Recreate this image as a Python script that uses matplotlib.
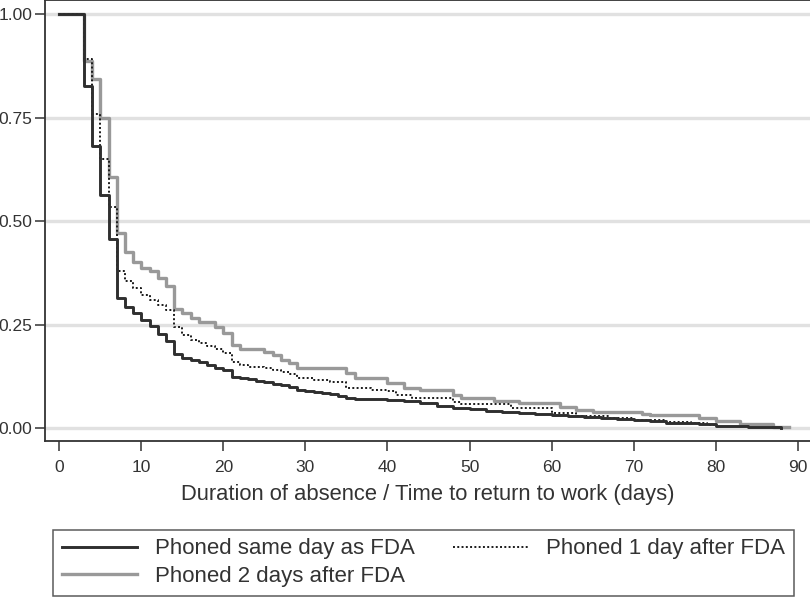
import matplotlib
matplotlib.use("Agg")
import matplotlib.pyplot as plt

plt.rcParams['font.family'] = ['Liberation Sans', 'DejaVu Sans']

# ---- data (Kaplan-Meier style survival) ----
same_days = [0, 3, 4, 5, 6, 7, 8, 9, 10, 11, 12, 13, 14, 15, 16, 17, 18, 19, 20,
             21, 22, 23, 24, 25, 26, 27, 28, 29, 30, 31, 32, 33, 34, 35, 36, 38,
             40, 42, 44, 46, 48, 50, 52, 54, 56, 58, 60, 62, 64, 66, 68, 70, 72,
             74, 78, 80, 84, 88]
same_surv = [1.0, 0.826, 0.683, 0.564, 0.457, 0.316, 0.293, 0.279, 0.262, 0.247,
             0.229, 0.211, 0.179, 0.170, 0.165, 0.159, 0.153, 0.146, 0.140, 0.125,
             0.121, 0.118, 0.115, 0.112, 0.108, 0.104, 0.099, 0.093, 0.090, 0.088,
             0.085, 0.082, 0.079, 0.074, 0.072, 0.070, 0.068, 0.065, 0.061, 0.055,
             0.050, 0.046, 0.043, 0.039, 0.036, 0.034, 0.031, 0.029, 0.027, 0.024,
             0.022, 0.019, 0.017, 0.014, 0.010, 0.006, 0.002, 0.0]
same_end = 88

one_days = [0, 3, 4, 5, 6, 7, 8, 9, 10, 11, 12, 13, 14, 15, 16, 17, 18, 19, 20,
            21, 22, 23, 25, 26, 27, 28, 29, 31, 33, 35, 38, 40, 41, 43, 48, 49,
            55, 60, 63, 67, 70, 74, 77, 79]
one_surv = [1.0, 0.893, 0.76, 0.65, 0.535, 0.38, 0.355, 0.338, 0.322, 0.31,
            0.298, 0.285, 0.245, 0.225, 0.213, 0.206, 0.199, 0.192, 0.181, 0.159,
            0.152, 0.149, 0.145, 0.141, 0.136, 0.131, 0.121, 0.117, 0.113, 0.097,
            0.093, 0.089, 0.081, 0.073, 0.064, 0.058, 0.048, 0.036, 0.030, 0.024,
            0.019, 0.015, 0.012, 0.009]
one_end = 80

two_days = [0, 3, 4, 5, 6, 7, 8, 9, 10, 11, 12, 13, 14, 15, 16, 17, 19, 20, 21,
            22, 25, 26, 27, 28, 29, 35, 36, 40, 42, 44, 48, 49, 53, 56, 61, 63,
            65, 71, 72, 78, 80, 83, 87]
two_surv = [1.0, 0.888, 0.844, 0.751, 0.607, 0.471, 0.427, 0.403, 0.387, 0.381,
            0.364, 0.344, 0.288, 0.278, 0.266, 0.258, 0.245, 0.231, 0.202, 0.191,
            0.185, 0.177, 0.166, 0.157, 0.146, 0.134, 0.121, 0.109, 0.097, 0.093,
            0.081, 0.073, 0.067, 0.060, 0.052, 0.044, 0.039, 0.035, 0.031, 0.024,
            0.018, 0.010, 0.004]
two_end = 89

labels = ["Phoned same day as FDA", "Phoned 1 day after FDA", "Phoned 2 days after FDA"]
x_ticks = [0, 10, 20, 30, 40, 50, 60, 70, 80, 90]
y_ticks = [0.0, 0.25, 0.5, 0.75, 1.0]
x_label = "Duration of absence / Time to return to work (days)"

# ---- figure ----
fig = plt.figure(figsize=(8.10, 5.99), dpi=100)
ax = fig.add_axes([45 / 810, 1 - 441 / 599, 1 - 45 / 810, 441 / 599])

txt = '#333333'
ax.yaxis.grid(True, color='#e1e1e1', linewidth=2.4)
ax.xaxis.grid(False)
ax.set_axisbelow(True)

def draw(days, surv, end, **kw):
    d = list(days) + [end]
    s = list(surv) + [surv[-1]]
    return ax.step(d, s, where='post', **kw)[0]

h_two = draw(two_days, two_surv, two_end, color='#999999', linewidth=2.4, zorder=3)
h_one = draw(one_days, one_surv, one_end, color='#1a1a1a', linewidth=1.4,
             linestyle=(0, (1, 1.2)), zorder=4)
h_same = draw(same_days, same_surv, same_end, color='#2f2f2f', linewidth=2.1, zorder=5)

ax.set_xlim(-1.74, 91.5)
ax.set_ylim(-0.0307, 1.035)
ax.set_xticks(x_ticks)
ax.set_yticks(y_ticks)
ax.set_yticklabels([f"{v:.2f}" for v in y_ticks])

for side in ['left', 'bottom', 'top']:
    ax.spines[side].set_color('#333333')
    ax.spines[side].set_linewidth(1.3)
ax.spines['right'].set_visible(False)

ax.tick_params(axis='both', colors='#333333', labelcolor=txt, labelsize=12.5,
               direction='out', width=1.1)
ax.tick_params(axis='y', length=7, pad=2)
ax.tick_params(axis='x', length=7.5, pad=6)

ax.set_xlabel(x_label, fontsize=15.8, color=txt, labelpad=7)

handles = [h_same, h_two, h_one]
leg_labels = [labels[0], labels[2], labels[1]]
leg = fig.legend(handles, leg_labels, ncol=2, loc='lower left',
                 bbox_to_anchor=(53 / 810, 3 / 599),
                 fontsize=16, frameon=True, fancybox=False,
                 edgecolor='#333333', handlelength=3.4, handletextpad=0.8,
                 columnspacing=1.7, borderpad=0.4, labelspacing=0.3,
                 borderaxespad=0)
leg.get_frame().set_linewidth(1.1)
for t in leg.get_texts():
    t.set_color(txt)

fig.savefig("out.png", dpi=100)
